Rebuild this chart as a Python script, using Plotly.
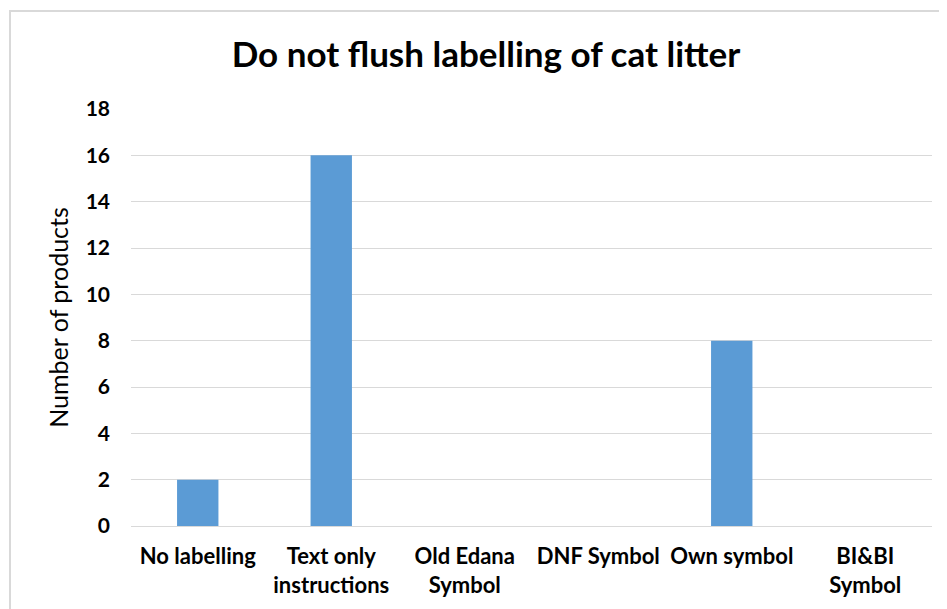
import plotly.graph_objects as go

categories = ["No labelling", "Text only<br>instructions", "Old Edana<br>Symbol",
              "DNF Symbol", "Own symbol", "BI&BI<br>Symbol"]
values = [2, 16, 0, 0, 8, 0]
y_ticks = [0, 2, 4, 6, 8, 10, 12, 14, 16, 18]

FONT = "Lato, Carlito, Calibri, sans-serif"

fig = go.Figure(go.Bar(x=categories, y=values, marker_color="#5b9bd5",
                       marker_line_width=0))

# page body has an 8px margin; figure coordinates are screen minus 8
OFF = 8
W, H = 947 - OFF, 609 - OFF
L, R, T, B = 131 - OFF, 15, 109 - OFF, 83
pw, ph = W - L - R, H - T - B

def px(x):
    return (x - OFF - L) / pw

def py(y):
    return (H - B - (y - OFF)) / ph

fig.update_layout(
    width=W, height=H,
    margin=dict(l=L, r=R, t=T, b=B),
    paper_bgcolor="white", plot_bgcolor="white",
    bargap=0.69,
    showlegend=False,
    font=dict(family=FONT, color="#000000"),
    title=dict(text="<b>Do not flush labelling of cat litter</b>",
               x=(486 - OFF) / W, xanchor="center", y=1 - (55 - OFF) / H, yanchor="middle",
               font=dict(size=35, family=FONT, color="#000000")),
    xaxis=dict(showgrid=False, showline=False, ticks="", ticklabelstandoff=15,
               tickfont=dict(size=22, family=FONT, color="#000000", weight="bold")),
    yaxis=dict(range=[0, 18], tickvals=y_ticks, showgrid=True, gridcolor="#d9d9d9",
               gridwidth=1, zeroline=True, zerolinecolor="#d9d9d9", zerolinewidth=1,
               showline=False, ticks="", ticklabelstandoff=20,
               tickfont=dict(size=21, family=FONT, color="#000000", weight="bold"),
               title=dict(text="Number of products", standoff=9,
                          font=dict(size=25, family=FONT, color="#000000"))),
    shapes=[dict(type="rect", xref="paper", yref="paper",
                 x0=px(10), x1=px(970), y0=py(630), y1=py(11),
                 line=dict(color="#d9d9d9", width=2), layer="below")],
)

fig.write_html("out.html")
